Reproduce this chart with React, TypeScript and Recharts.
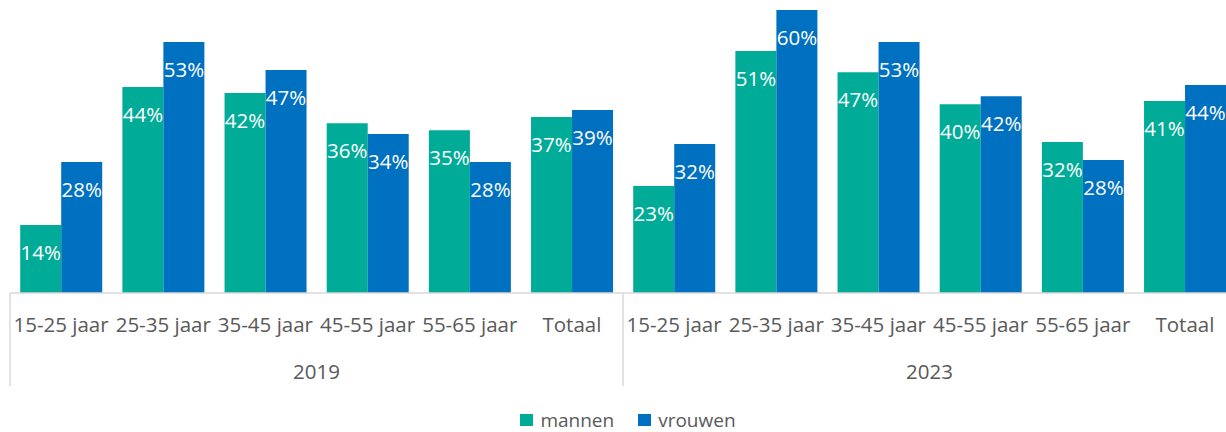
import type { ReactElement } from 'react'
import { BarChart, Bar, XAxis, YAxis, LabelList } from 'recharts'

// Colors
const GREEN = '#00AB97'
const BLUE = '#0070C0'
const TEXT_GRAY = '#595959'
const LINE_GRAY = '#D9D9D9'
const FONT = '"Open Sans", "Noto Sans", sans-serif'

// Data (percentages)
const ageGroups = ['15-25 jaar', '25-35 jaar', '35-45 jaar', '45-55 jaar', '55-65 jaar', 'Totaal']
const years = ['2019', '2023']
const mannen2019 = [14.4, 43.7, 42.4, 36.0, 34.5, 37.3]
const vrouwen2019 = [27.8, 53.2, 47.3, 33.7, 27.8, 38.8]
const mannen2023 = [22.7, 51.3, 46.8, 40.0, 32.0, 40.7]
const vrouwen2023 = [31.6, 60.0, 53.2, 41.7, 28.2, 44.1]

const data = [
  ...ageGroups.map((cat, i) => ({ cat, year: years[0], mannen: mannen2019[i], vrouwen: vrouwen2019[i] })),
  ...ageGroups.map((cat, i) => ({ cat, year: years[1], mannen: mannen2023[i], vrouwen: vrouwen2023[i] })),
]

// Layout
const W = 1240
const H = 432
const MARGIN = { top: 10, right: 4, left: 10, bottom: 0 }
const XAXIS_H = 139
const AXIS_Y = H - MARGIN.bottom - XAXIS_H
const BAND = (W - MARGIN.left - MARGIN.right) / data.length

const BarLabel = (props: any) => {
  const { x, y, width, value } = props
  return (
    <text
      x={x + width / 2}
      y={y + 35}
      textAnchor="middle"
      fill="#FFFFFF"
      fontSize={20.5}
      fontFamily={FONT}
    >
      {Math.round(value)}%
    </text>
  )
}

const CategoryTick = (props: any) => {
  const { x, payload, index } = props
  const groupSize = ageGroups.length
  const isGroupStart = index % groupSize === 0
  const left = x - BAND / 2
  return (
    <g>
      <text x={x} y={AXIS_Y + 39} textAnchor="middle" fill={TEXT_GRAY} fontSize={20.5} fontFamily={FONT}>
        {payload.value}
      </text>
      {isGroupStart && (
        <>
          <line x1={left} y1={AXIS_Y} x2={left} y2={AXIS_Y + 93} stroke={LINE_GRAY} strokeWidth={1.5} />
          <text
            x={left + (BAND * groupSize) / 2}
            y={AXIS_Y + 86}
            textAnchor="middle"
            fill={TEXT_GRAY}
            fontSize={20.5}
            fontFamily={FONT}
          >
            {data[index].year}
          </text>
        </>
      )}
    </g>
  )
}

const legendItems = [
  { name: 'mannen', color: GREEN },
  { name: 'vrouwen', color: BLUE },
]

export default function App(): ReactElement {
  return (
    <div style={{ position: 'fixed', left: 0, top: 0, width: 1226, height: H, overflow: 'hidden', background: '#fff' }}>
      <BarChart width={W} height={H} data={data} margin={MARGIN} barGap={0} barCategoryGap="10%">
        <XAxis
          dataKey="cat"
          height={XAXIS_H}
          interval={0}
          axisLine={{ stroke: LINE_GRAY, strokeWidth: 1.5 }}
          tickLine={false}
          tickSize={0}
          tick={<CategoryTick />}
        />
        <YAxis hide domain={[0, 60]} />
        <Bar dataKey="mannen" fill={GREEN} isAnimationActive={false}>
          <LabelList dataKey="mannen" content={<BarLabel />} />
        </Bar>
        <Bar dataKey="vrouwen" fill={BLUE} isAnimationActive={false}>
          <LabelList dataKey="vrouwen" content={<BarLabel />} />
        </Bar>
      </BarChart>
      {/* legend */}
      <div
        style={{
          position: 'absolute',
          top: 410,
          left: 0,
          width: 1256,
          height: 20,
          display: 'flex',
          justifyContent: 'center',
          gap: 24,
          fontFamily: FONT,
          fontSize: 19,
          lineHeight: '20px',
          color: TEXT_GRAY,
        }}
      >
        {legendItems.map((item) => (
          <div key={item.name} style={{ display: 'flex', alignItems: 'center', gap: 7 }}>
            <span style={{ display: 'inline-block', width: 13, height: 12, background: item.color }} />
            <span>{item.name}</span>
          </div>
        ))}
      </div>
    </div>
  )
}
